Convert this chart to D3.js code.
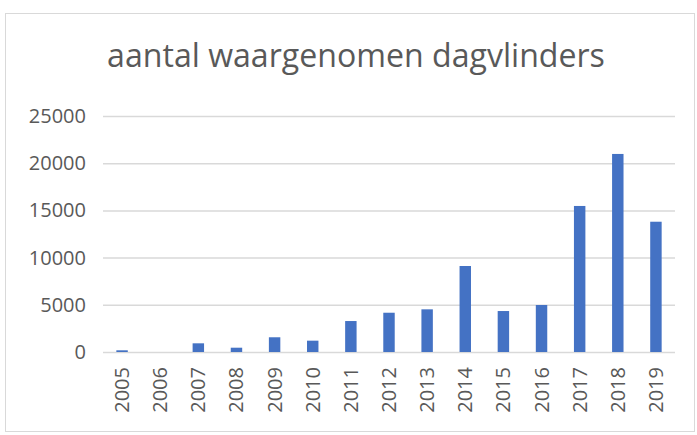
<!DOCTYPE html>
<html>
<head>
<meta charset="utf-8">
<script src="https://cdn.jsdelivr.net/npm/d3@7"></script>
<style>
  body { margin: 0; background: #fff; }
  text { font-family: "Open Sans", sans-serif; fill: #595959; }
</style>
</head>
<body>
<svg id="chart" width="697" height="435"></svg>
<script>
// chart data
var years = ["2005","2006","2007","2008","2009","2010","2011","2012","2013","2014","2015","2016","2017","2018","2019"];
var counts = [180, 0, 920, 455, 1560, 1200, 3280, 4160, 4520, 9110, 4340, 4980, 15470, 20980, 13800];
var yTicks = [0, 5000, 10000, 15000, 20000, 25000];
var title = "aantal waargenomen dagvlinders";

var svg = d3.select("#chart");

// outer chart border
svg.append("rect")
  .attr("x", 5.5).attr("y", 13.5)
  .attr("width", 689).attr("height", 418)
  .attr("fill", "#fff")
  .attr("stroke", "#d9d9d9");

// title, sized to fit the width seen in the picture
var t = svg.append("text")
  .attr("x", 356).attr("y", 67)
  .attr("text-anchor", "middle")
  .attr("font-size", "28px")
  .text(title);
var w = t.node().getComputedTextLength();
t.attr("font-size", (28 * 498 / w) + "px");

var x = d3.scaleBand()
  .domain(years)
  .range([103, 675])
  .paddingInner(0.7)
  .paddingOuter(0.35);

var y = d3.scaleLinear()
  .domain([0, 25000])
  .range([352, 116]);

// gridlines + y labels
var yAxis = svg.append("g")
  .call(d3.axisLeft(y).tickValues(yTicks).tickFormat(d3.format("d")).tickSize(-572).tickPadding(17))
  .attr("transform", "translate(103,0)");
yAxis.select(".domain").remove();
yAxis.selectAll(".tick line").attr("stroke", "#d9d9d9").attr("stroke-width", 1.5);
yAxis.selectAll(".tick text")
  .attr("font-size", "20px")
  .attr("fill", "#595959")
  .attr("font-family", "Open Sans");

// bars
svg.append("g").selectAll("rect")
  .data(counts)
  .join("rect")
  .attr("x", function(d, i) { return x(years[i]); })
  .attr("y", function(d) { return y(d); })
  .attr("width", x.bandwidth())
  .attr("height", function(d) { return y(0) - y(d); })
  .attr("fill", "#4472c4");

// rotated year labels
var xAxis = svg.append("g")
  .attr("transform", "translate(0,352)")
  .call(d3.axisBottom(x).tickSize(0).tickPadding(0));
xAxis.select(".domain").remove();
xAxis.selectAll(".tick text")
  .attr("font-size", "20px")
  .attr("fill", "#595959")
  .attr("font-family", "Open Sans")
  .attr("text-anchor", "end")
  .attr("transform", "rotate(-90)")
  .attr("x", -15)
  .attr("y", 0)
  .attr("dy", "0.35em");
</script>
</body>
</html>
